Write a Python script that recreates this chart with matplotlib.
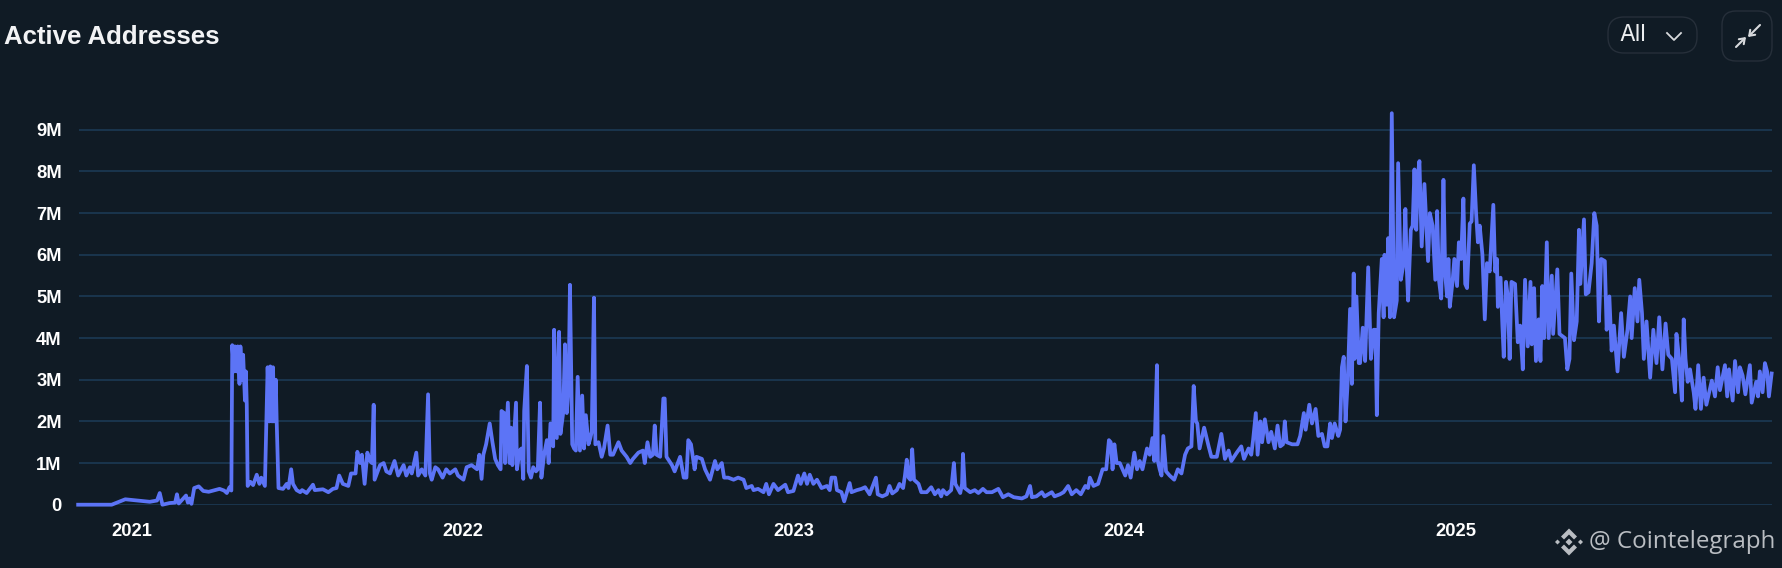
import numpy as np
import pandas as pd
import matplotlib
matplotlib.use("Agg")
import matplotlib.pyplot as plt
import matplotlib.dates as mdates
from matplotlib.patches import FancyBboxPatch, Polygon

# Values: days since 2021-01-01, active addresses in millions
days_2021 = [-59, -22, -7, 20, 28, 31, 34, 42, 48, 50, 52, 60, 62, 64, 66, 69, 74, 79, 85, 90, 97, 102, 105, 108, 110,
             111, 113, 114, 116, 117, 119, 120, 122, 123, 125, 126, 127, 128, 131, 134, 138, 141, 143, 147, 150, 152,
             153, 155, 156, 157, 159, 160, 162, 167, 171, 173, 176, 178, 182, 186, 188, 193, 200, 202, 211, 217, 222,
             226, 229, 233, 239, 242, 247, 249, 252, 254, 257, 260, 263, 265, 267, 268, 274, 278, 281, 285, 290, 294,
             300, 303, 307, 309, 314, 316, 320, 324, 327, 329, 331, 335, 338, 343, 347, 351, 357, 360]
vals_2021 = [0, 0, .13, .07, .1, .28, 0, .04, .05, .25, .03, .22, .05, .15, .02, .4, .44, .33, .31, .34, .38, .34, .28, .42, .34,
             3.83, 3.2, 3.8, 3.2, 3.8, 2.9, 3.8, 3.0, 3.6, 2.5, 3.2, 2.4, .45, .55, .47, .72, .5, .65, .45, 3.3,
             2.0, 3.32, 2.0, 3.3, 2.0, 3.0, 2.0, .4, .38, .5, .4, .85, .5, .35, .3, .35, .28, .48, .35, .37, .3, .38,
             .4, .7, .5, .45, .75, .75, 1.27, 1.0, 1.2, .5, 1.25, 1.05, 1.0, 2.4, .6, .95, 1.0, .8, .75, 1.05, .7,
             .95, .7, .9, .75, 1.25, .7, .85, .7, 2.65, .75, .6, .9, .85, .65, .85, .75, .85, .7]

days_2022 = [366, 369.5, 375, 381, 383.5, 386, 388, 391, 395, 398, 401, 404, 407, 408, 411, 412, 415, 417, 418.5, 420, 424,
             425, 428, 430, 432, 433, 436, 438, 440.5, 443, 446, 448, 450.5, 452, 455, 458, 460, 462, 465, 466, 469,
             471.5, 473, 476, 478, 480, 482, 483.5, 486, 488, 490, 492, 494.5, 497, 499, 501, 504, 506, 507.5, 510,
             511.5, 515, 518.5, 521, 525, 528, 531, 537, 540.5, 546, 550, 553, 559, 564, 566, 569, 572, 575, 577, 579,
             583, 586.5, 588, 590, 596, 599, 605, 609, 612, 614, 617, 621, 623, 629, 632.5, 638, 643.5, 646, 651, 653.5,
             658, 664, 669, 675, 678, 684, 686, 691, 697, 700, 703, 708, 713, 721, 724]
vals_2022 = [.6, .9, .95, .85, 1.2, .62, 1.2, 1.45, 1.95, 1.5, 1.1, .95, .85, 2.25, 2.2, 1.0, 2.45, 1.0, 1.85, .95, 2.45,
             .85, 1.3, 1.35, .62, 2.25, 3.33, .8, .65, .9, .8, .85, 2.45, .65, 1.2, 1.55, 1.0, 1.95, 1.4, 4.2, 1.6,
             4.15, 1.7, 2.2, 3.85, 2.2, 2.9, 5.28, 1.45, 1.35, 1.3, 3.07, 1.3, 2.62, 1.35, 2.15, 1.45, 1.6, 1.75, 4.97,
             1.45, 1.5, 1.15, 1.35, 1.9, 1.2, 1.2, 1.5, 1.3, 1.15, 1.0, 1.1, 1.25, 1.3, 1.0, 1.5, 1.15, 1.2, 1.9, 1.2,
             1.15, 2.55, 2.55, 1.15, .95, .8, 1.15, .65, .65, 1.55, 1.45, .85, 1.15, 1.1, .85, .6, 1.05, .85, 1.0, .65,
             .65, .6, .65, .6, .4, .45, .35, .38, .3, .5, .25, .5, .35, .48, .3]

days_2023 = [730, 735, 738, 742, 745, 748, 752, 756, 761, 767, 770, 772, 776, 778, 783, 786, 789, 792, 794, 800, 805, 809,
             814, 821, 823, 828, 833, 836, 839, 844, 847, 851, 853, 855, 857, 859, 861, 863, 868, 871, 877, 882, 886,
             890, 893, 895, 899, 904, 907, 908.6, 914, 916, 917, 919, 925, 930, 934, 939, 943, 949, 956, 961, 967, 973,
             982, 987, 991, 993, 998, 1004, 1007, 1015, 1018, 1024, 1028, 1033, 1037, 1042, 1047, 1052, 1055, 1057, 1061,
             1066, 1071, 1075, 1078, 1080, 1082, 1084, 1086.5, 1090]
vals_2023 = [.33, .7, .5, .75, .5, .72, .5, .6, .4, .45, .35, .65, .65, .35, .3, .08, .3, .52, .3, .35, .38, .42,
             .25, .65, .25, .2, .25, .45, .27, .35, .5, .4, .7, 1.08, .65, .6, 1.33, .6, .5, .3, .3, .42, .25,
             .35, .2, .35, .25, .35, 1.0, .5, .28, .5, 1.22, .4, .3, .35, .28, .38, .3, .3, .38, .18, .25, .18,
             .15, .2, .45, .18, .2, .3, .2, .3, .2, .25, .3, .45, .25, .35, .25, .45, .4, .65, .45,
             .5, .85, .85, 1.55, 1.5, .85, 1.45, 1.0, 1.0]

days_2024 = [1096, 1099, 1102, 1106, 1109, 1112, 1115, 1120, 1123, 1126, 1128, 1131, 1132, 1134, 1136, 1138, 1141, 1145, 1150,
             1154, 1158, 1162, 1165, 1169, 1171.5, 1174, 1175.5, 1178, 1183, 1188, 1191, 1197, 1202, 1206, 1210, 1213,
             1219, 1224, 1227, 1232, 1235, 1237, 1240, 1242, 1245, 1247, 1250, 1254, 1257, 1261, 1264, 1267, 1270, 1272,
             1274, 1280, 1286, 1289, 1293, 1295, 1299, 1302, 1306, 1309, 1313, 1316, 1319, 1322, 1324, 1327, 1331, 1333,
             1335, 1337, 1339, 1341.5, 1344, 1346, 1348, 1349, 1351, 1353.6, 1355, 1358, 1360.6, 1364, 1367, 1370, 1372,
             1373.5, 1375.6, 1379, 1381, 1382, 1384.5, 1386, 1388, 1390, 1392.5, 1395.5, 1397, 1400, 1403, 1405, 1406.5,
             1408, 1411, 1413, 1415, 1417, 1418.7, 1420.5, 1423, 1426, 1430, 1432, 1435, 1438, 1440, 1442, 1444.5, 1447,
             1449, 1451, 1452.5, 1454, 1457, 1459]
vals_2024 = [.7, .95, .65, 1.25, .85, 1.05, .85, 1.35, 1.2, 1.6, 1.05, 3.35, 1.05, .85, .7, 1.65, .8, .7, .6,
             .85, .75, 1.2, 1.35, 1.4, 2.85, 2.0, 1.95, 1.35, 1.85, 1.4, 1.15, 1.15, 1.7, 1.1, 1.3, 1.05,
             1.25, 1.4, 1.1, 1.35, 1.2, 1.55, 2.2, 1.2, 2.0, 1.5, 2.05, 1.5, 1.75, 1.35, 1.9, 1.4, 1.45, 2.0,
             1.5, 1.45, 1.45, 1.65, 2.2, 1.8, 2.4, 1.95, 2.3, 1.65, 1.7, 1.4, 1.4, 1.95, 1.6, 1.95, 1.65, 1.8,
             3.3, 3.55, 2.0, 3.0, 4.7, 2.9, 5.55, 3.5, 5.0, 3.4, 3.4, 4.25, 3.45, 5.7, 3.5, 4.2, 4.2,
             2.15, 4.6, 5.9, 4.5, 6.0, 4.8, 6.4, 4.5, 9.4, 4.5, 4.9, 8.2, 5.4, 5.8, 7.1, 5.7,
             4.9, 6.6, 6.7, 8.05, 6.6, 7.9, 8.25, 6.2, 7.7, 5.85, 7.0, 6.7, 5.4, 7.05, 5.4, 4.95, 7.8,
             5.5, 5.0, 5.9, 4.75, 5.35, 5.9]

days_2025 = [1462, 1464, 1466.5, 1469, 1471, 1473, 1476, 1478, 1480.5, 1483, 1485, 1487, 1490, 1492.6, 1495, 1498, 1502, 1504,
             1506, 1507, 1510, 1512, 1513.5, 1516, 1518, 1520, 1522, 1526, 1529, 1531.6, 1534.5, 1537, 1540, 1543, 1544.4,
             1547, 1549, 1552, 1554, 1556, 1558, 1561, 1563, 1566.5, 1568, 1572.6, 1575, 1581, 1583.6, 1586, 1588, 1591,
             1594, 1596.5, 1598, 1602, 1604, 1607, 1610.5, 1613.4, 1616, 1618.5, 1621, 1625, 1627, 1630, 1632.5, 1635,
             1639, 1643, 1646, 1650, 1653, 1654.6, 1658, 1661, 1663, 1666, 1668, 1671, 1675, 1678.5, 1682, 1685, 1688.5,
             1692, 1695, 1699, 1702.5, 1704, 1707, 1710, 1712, 1714, 1716.4, 1719, 1723, 1725, 1728, 1731, 1734, 1737,
             1743, 1746.5, 1749.5, 1752, 1757.5, 1760, 1762, 1766, 1768.6, 1772, 1774, 1777, 1780, 1785, 1787, 1792, 1794,
             1796, 1799, 1801.6, 1804, 1806, 1809]
vals_2025 = [5.25, 6.3, 5.9, 7.35, 5.3, 5.2, 6.75, 6.8, 8.15, 7.0, 6.3, 6.7, 6.0, 4.45, 5.8, 5.6, 7.2, 5.6,
             5.9, 4.75, 5.45, 4.3, 3.55, 5.35, 5.0, 3.5, 5.35, 5.3, 3.9, 4.3, 3.25, 5.4, 3.8, 5.35, 3.85,
             5.2, 3.45, 4.45, 3.45, 5.25, 4.0, 6.3, 4.0, 5.5, 4.1, 5.65, 4.1, 4.0, 3.25, 3.5, 5.55, 3.95,
             4.4, 6.6, 5.3, 6.85, 5.05, 5.1, 5.8, 7.0, 6.7, 4.4, 5.9, 5.85, 4.2, 5.0, 3.7, 4.3,
             3.2, 4.6, 3.55, 4.2, 5.0, 4.0, 5.2, 4.4, 5.4, 4.6, 3.5, 4.4, 3.05, 4.2, 3.4, 4.5, 3.25,
             4.35, 3.6, 3.5, 2.7, 4.1, 3.5, 2.5, 4.45, 3.5, 2.95, 3.25, 2.7, 2.3, 3.35, 2.3, 3.05, 2.4,
             2.98, 2.6, 3.3, 2.75, 3.35, 2.6, 3.25, 2.5, 3.45, 2.7, 3.3, 3.1, 2.65, 3.35, 2.45, 2.95, 2.6,
             3.2, 2.7, 3.4, 3.2, 2.6, 3.15]

year_ticks = ["2021-01-01", "2022-01-01", "2023-01-01", "2024-01-01", "2025-01-01"]
y_ticks = [0, 1, 2, 3, 4, 5, 6, 7, 8, 9]
y_labels = ["0", "1M", "2M", "3M", "4M", "5M", "6M", "7M", "8M", "9M"]

W, H = 1783, 568
BG = "#101b25"
LINE = "#5c74f6"
GRID = "#1b3a55"

days = np.array(days_2021 + days_2022 + days_2023 + days_2024 + days_2025)
vals = np.array(vals_2021 + vals_2022 + vals_2023 + vals_2024 + vals_2025)
dates = pd.Timestamp("2021-01-01") + pd.to_timedelta(days, unit="D")

fig = plt.figure(figsize=(W / 100, H / 100), dpi=100, facecolor=BG)

# Main axes: 0 sits at y=504.7px, 1M is 41.65px
left, right, y0, top = 78.5, 1772, 504.7, 110
ax = fig.add_axes([left / W, 1 - y0 / H, (right - left) / W, (y0 - top) / H], facecolor=BG)
ax.plot(dates, vals * 1e6, color=LINE, lw=2.7, solid_joinstyle="round", clip_on=False, zorder=3)
ax.set_xlim(pd.Timestamp("2021-01-01") - pd.Timedelta(days=58.6), pd.Timestamp("2021-01-01") + pd.Timedelta(days=1809.4))
ax.set_ylim(0, (y0 - top) / 41.65 * 1e6)

ax.set_yticks([v * 1e6 for v in y_ticks])
ax.set_yticklabels(y_labels)
ax.set_xticks(pd.to_datetime(year_ticks))
ax.xaxis.set_major_formatter(mdates.DateFormatter("%Y"))
ax.grid(axis="y", color=GRID, lw=1.2, zorder=1)
ax.grid(axis="x", visible=False)
ax.set_axisbelow(True)
for s in ax.spines.values():
    s.set_visible(False)
ax.tick_params(axis="both", length=0, labelcolor="white")
ax.tick_params(axis="y", pad=12)
ax.tick_params(axis="x", pad=13.5)
for lab in ax.get_xticklabels() + ax.get_yticklabels():
    lab.set_fontfamily("Liberation Sans")
    lab.set_fontweight("bold")
    lab.set_fontsize(13.2)

# Overlay in pixel coordinates for the header widgets and the watermark
ov = fig.add_axes([0, 0, 1, 1], facecolor="none")
ov.set_xlim(0, W)
ov.set_ylim(H, 0)
ov.axis("off")

ov.text(4, 37, "Active Addresses", color="#f2f3f5", fontsize=18.5, fontweight="bold",
        family="Liberation Sans", va="center", ha="left")

edge = "#262f3a"
ov.add_patch(FancyBboxPatch((1608 + 16, 17 + 16), 89 - 32, 36 - 32, boxstyle="round,pad=16", fc="none", ec=edge, lw=1))
ov.add_patch(FancyBboxPatch((1722 + 14, 11 + 14), 50 - 28, 50 - 28, boxstyle="round,pad=14", fc="none", ec=edge, lw=1))
ov.text(1619, 35, "All", color="#eceef0", fontsize=16.5, family="Inter", va="center", ha="left")
ov.plot([1667, 1674, 1681], [33, 40, 33], color="#d8dadd", lw=1.3)

arrow = dict(arrowstyle="->,head_length=0.35,head_width=0.25", color="#d8dadd", lw=1.5, shrinkA=0, shrinkB=0)
ov.annotate("", xy=(1748, 37), xytext=(1760, 25), arrowprops=arrow)
ov.annotate("", xy=(1746, 37), xytext=(1736, 47), arrowprops=arrow)

# Watermark: Binance style diamond mark and the site name
wm = "#b9bdc2"
cx, cy = 1569, 542


def diamond(dx, dy, r):
    return Polygon([(cx + dx, cy + dy - r), (cx + dx + r, cy + dy), (cx + dx, cy + dy + r), (cx + dx - r, cy + dy)],
                   fc=wm, ec="none")


def chevron(sign):
    pts = [(0, -13.5), (8, -5.5), (5, -2.5), (0, -7.5), (-5, -2.5), (-8, -5.5)]
    return Polygon([(cx + x, cy + sign * y) for x, y in pts], fc=wm, ec="none")


ov.add_patch(chevron(1))
ov.add_patch(chevron(-1))
ov.add_patch(diamond(0, 0, 3.5))
ov.add_patch(diamond(-11.5, 0, 2.5))
ov.add_patch(diamond(11.5, 0, 2.5))
ov.text(1589, 542, "@ Cointelegraph", color=wm, fontsize=17.4, family="Open Sans", va="center", ha="left")

fig.savefig("out.png", dpi=100, facecolor=BG)
